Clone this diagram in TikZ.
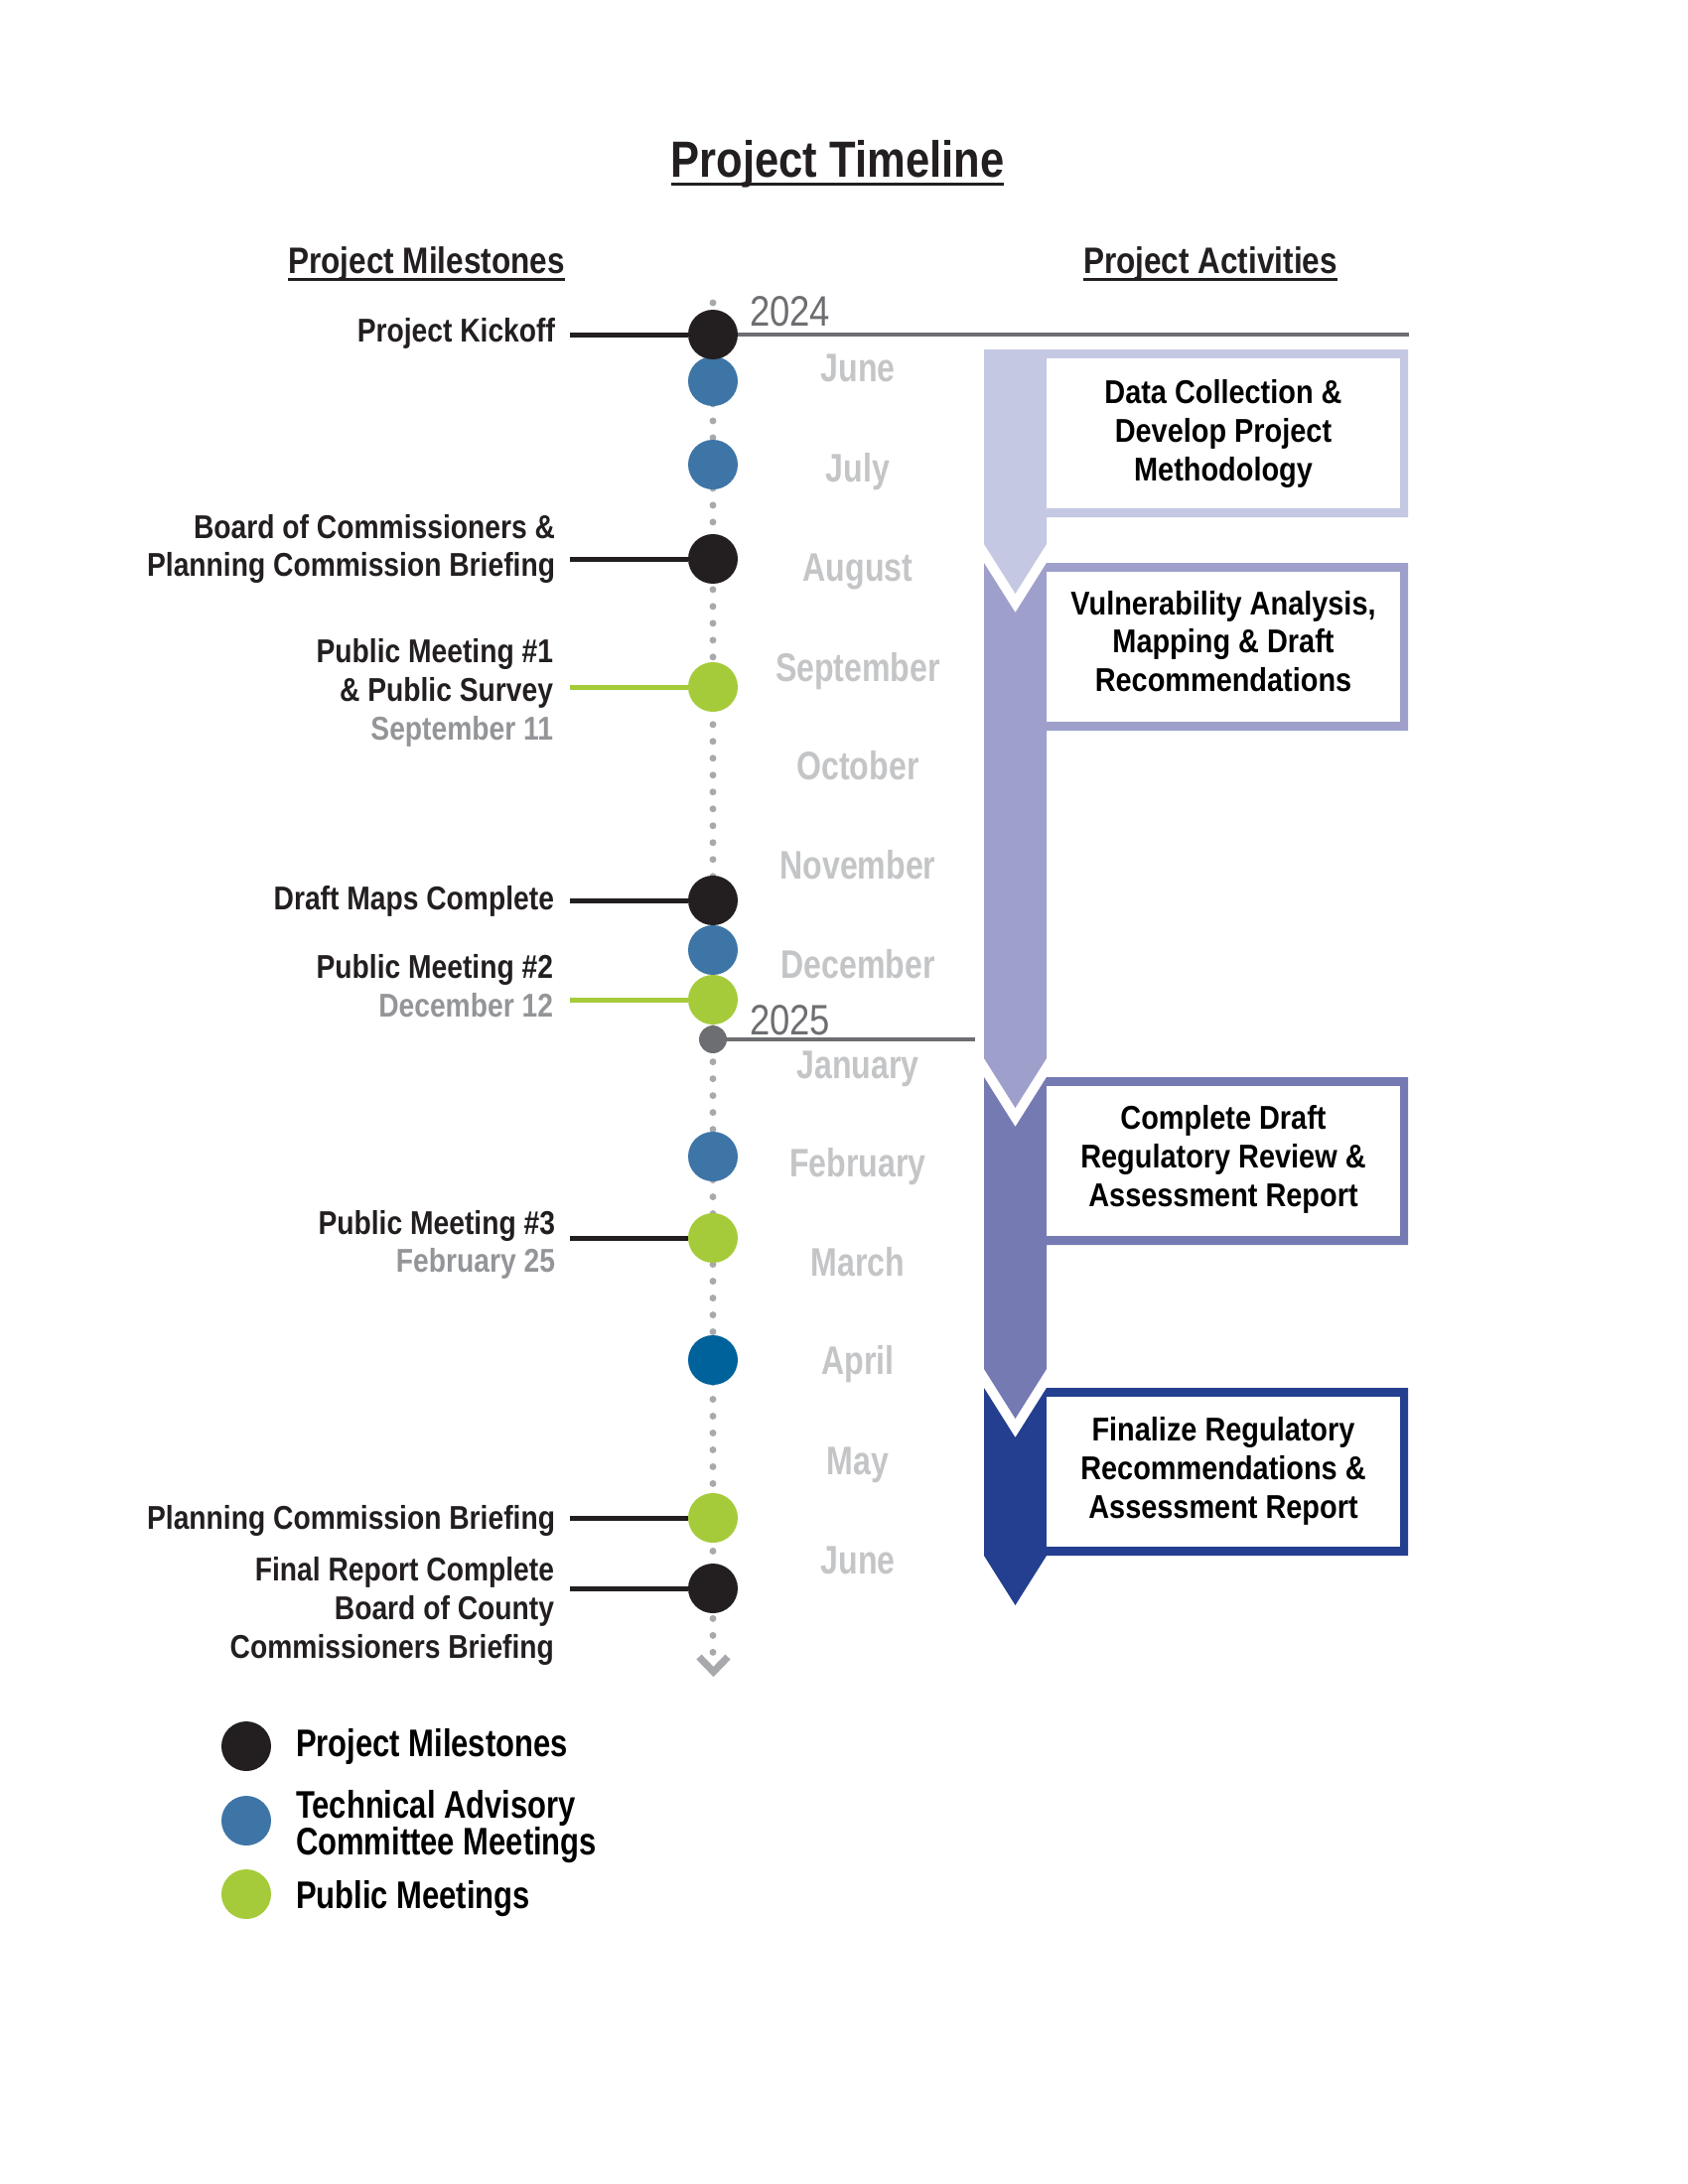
\documentclass[tikz,border=0pt]{standalone}
\usepackage{fontspec}
\setmainfont{Liberation Sans}
\newfontfamily\fcond{Liberation Sans}[FakeStretch=0.85]
\newfontfamily\fact{Liberation Sans}[FakeStretch=0.87]
\newfontfamily\fmon{Liberation Sans}[FakeStretch=0.8]
\definecolor{inkblack}{HTML}{231F20}
\definecolor{tacblue}{HTML}{3D75A7}
\definecolor{aprblue}{HTML}{00629B}
\definecolor{pubgreen}{HTML}{A5CB3A}
\definecolor{yeargray}{HTML}{6D6E71}
\definecolor{dotgray}{HTML}{A7A9AC}
\definecolor{monthgray}{HTML}{C4C5C7}
\definecolor{dategray}{HTML}{939598}
\definecolor{actA}{HTML}{C5C8E2}
\definecolor{actB}{HTML}{9EA0CB}
\definecolor{actC}{HTML}{767AB3}
\definecolor{actD}{HTML}{243F8F}
\begin{document}
\begin{tikzpicture}[x=0.36135pt,y=-0.36135pt,
  every node/.style={inner sep=0pt, outer sep=0pt},
  bigdot/.style={circle, minimum size=18.07pt, inner sep=0pt},
  msdot/.style={bigdot, fill=inkblack},
  tacdot/.style={bigdot, fill=tacblue},
  aprdot/.style={bigdot, fill=aprblue},
  pubdot/.style={bigdot, fill=pubgreen},
  yrdot/.style={circle, minimum size=10.1pt, fill=yeargray},
  lbl/.style={anchor=east, align=right, text=inkblack, font=\fcond\bfseries\fontsize{12pt}{14pt}\selectfont},
  lblone/.style={lbl, text height=8.6pt, text depth=0pt},
  monlbl/.style={anchor=center, text=monthgray, text height=10.4pt, text depth=0pt, font=\fmon\bfseries\fontsize{14.5pt}{16pt}\selectfont},
  yrlbl/.style={anchor=west, text=yeargray, text height=11.1pt, text depth=0pt, font=\fcond\fontsize{15.5pt}{17pt}\selectfont},
  acttxt/.style={anchor=center, align=center, text=black, font=\fact\bfseries\fontsize{12pt}{14pt}\selectfont},
  hdr/.style={anchor=base, text=inkblack, font=\fcond\bfseries\fontsize{13.4pt}{15pt}\selectfont},
  ttl/.style={anchor=base, text=inkblack, font=\fcond\bfseries\fontsize{18.5pt}{22pt}\selectfont},
  legtxt/.style={anchor=west, align=left, text=black, font=\fmon\bfseries\fontsize{14pt}{13.4pt}\selectfont},
  conn/.style={draw=inkblack, line width=1.8pt},
  pubconn/.style={draw=pubgreen, line width=1.8pt},
  yrline/.style={draw=yeargray, line width=1.45pt},
  dotline/.style={draw=dotgray, line width=2.5pt, line cap=round, dash pattern=on 0pt off 6.14pt},
  chev/.style={draw=dotgray, line width=2.6pt, miter limit=10},
  uline/.style={draw=inkblack, line width=1.1pt}
]
\fill[white] (0,0) rectangle (1700,2200);
\useasboundingbox (0,0) rectangle (1700,2200);

% titles
\node[ttl] (title) at (843.5,178) {Project Timeline};
\draw[uline] ([yshift=-2.6pt]title.base west) -- ([yshift=-2.6pt]title.base east);
\node[hdr] (hms) at (429.5,275) {Project Milestones};
\draw[uline] ([yshift=-2.4pt]hms.base west) -- ([yshift=-2.4pt]hms.base east);
\node[hdr] (hact) at (1219,275) {Project Activities};
\draw[uline] ([yshift=-2.4pt]hact.base west) -- ([yshift=-2.4pt]hact.base east);

% activity arrows
\fill[actA] (991,352) -- (1418,352) -- (1418,521) -- (1054,521) -- (1054,548) -- (1022.5,598) -- (991,548) -- cycle;
\fill[white] (1054,361) rectangle (1410,512);
\node[acttxt] (act1) at (1232,437) {Data Collection \&\\Develop Project\\Methodology};

\fill[actB] (991,567) -- (1022.5,617) -- (1054,567) -- (1418,567) -- (1418,736) -- (1054,736) -- (1054,1066) -- (1022.5,1116) -- (991,1066) -- cycle;
\fill[white] (1054,576) rectangle (1410,727);
\node[acttxt] (act2) at (1232,646) {Vulnerability Analysis,\\Mapping \& Draft\\Recommendations};

\fill[actC] (991,1085) -- (1022.5,1135) -- (1054,1085) -- (1418,1085) -- (1418,1254) -- (1054,1254) -- (1054,1379) -- (1022.5,1429) -- (991,1379) -- cycle;
\fill[white] (1054,1094) rectangle (1410,1245);
\node[acttxt] (act3) at (1232,1168) {Complete Draft\\Regulatory Review \&\\Assessment Report};

\fill[actD] (991,1398) -- (1022.5,1448) -- (1054,1398) -- (1418,1398) -- (1418,1567) -- (1054,1567) -- (1022.5,1617) -- (991,1567) -- cycle;
\fill[white] (1054,1407) rectangle (1410,1558);
\node[acttxt] (act4) at (1232,1482) {Finalize Regulatory\\Recommendations \&\\Assessment Report};

% timeline axis
\coordinate (ttop) at (718,305);
\coordinate (tbot) at (718,1668);
\draw[dotline] (ttop) -- (tbot);
\coordinate (chl) at (704,1669);
\coordinate (cht) at (718.5,1684);
\coordinate (chr) at (733,1669);
\draw[chev] (chl) -- (cht) -- (chr);

% months
\node[monlbl] (m1) at (864,370) {June};
\node[monlbl] (m2) at (864,471) {July};
\node[monlbl] (m3) at (864,571) {August};
\node[monlbl] (m4) at (864,672) {September};
\node[monlbl] (m5) at (864,771) {October};
\node[monlbl] (m6) at (864,871) {November};
\node[monlbl] (m7) at (864,971) {December};
\node[monlbl] (m8) at (864,1072) {January};
\node[monlbl] (m9) at (864,1171) {February};
\node[monlbl] (m10) at (864,1271) {March};
\node[monlbl] (m11) at (864,1370) {April};
\node[monlbl] (m12) at (864,1471) {May};
\node[monlbl] (m13) at (864,1571) {June};

% years
\node[yrlbl] (y24) at (755,313) {2024};
\node[yrlbl] (y25) at (755,1027) {2025};

% dots (blue first so others sit on top)
\node[tacdot] (cjun) at (718,384) {};
\node[tacdot] (cjul) at (718,468) {};
\node[tacdot] (cdec) at (718,957) {};
\node[tacdot] (cfeb) at (718,1165) {};
\node[aprdot] (capr) at (718,1370) {};
\node[msdot] (ck) at (718,337) {};
\node[msdot] (cb) at (718,563) {};
\node[pubdot] (cp1) at (718,692) {};
\node[msdot] (cd) at (718,907) {};
\node[pubdot] (cp2) at (718,1007) {};
\node[yrdot] (cy) at (718,1047) {};
\node[pubdot] (cp3) at (718,1247) {};
\node[pubdot] (cpc) at (718,1529) {};
\node[msdot] (cf) at (718,1600) {};

% year lines
\coordinate (y24end) at (1419,337);
\coordinate (y25end) at (982,1047);
\draw[yrline] (ck) -- (y24end);
\draw[yrline] (cy) -- (y25end);

% milestone labels
\node[lblone] (lk) at (559,333) {Project Kickoff};
\node[lbl] (lb) at (559,553) {Board of Commissioners \&\\Planning Commission Briefing};
\node[lbl] (lp1) at (557,698) {Public Meeting \#1\\\& Public Survey\\\textcolor{dategray}{September 11}};
\node[lbl] (lp2) at (557,993) {Public Meeting \#2\\\textcolor{dategray}{December 12}};
\node[lblone] (ld) at (558,905) {Draft Maps Complete};
\node[lbl] (lp3) at (559,1254) {Public Meeting \#3\\\textcolor{dategray}{February 25}};
\node[lblone] (lpc) at (559,1529) {Planning Commission Briefing};
\node[lbl] (lf) at (558,1623) {Final Report Complete\\Board of County\\Commissioners Briefing};

% connectors
\coordinate (lx) at (574,0);
\draw[conn] (ck -| lx) -- (ck);
\draw[conn] (cb -| lx) -- (cb);
\draw[pubconn] (cp1 -| lx) -- (cp1);
\draw[conn] (cd -| lx) -- (cd);
\draw[pubconn] (cp2 -| lx) -- (cp2);
\draw[conn] (cp3 -| lx) -- (cp3);
\draw[conn] (cpc -| lx) -- (cpc);
\draw[conn] (cf -| lx) -- (cf);

% legend
\node[msdot] (gms) at (248,1759) {};
\node[tacdot] (gtac) at (248,1834) {};
\node[pubdot] (gpub) at (248,1908) {};
\node[legtxt] (tms) at (298,1759) {Project Milestones};
\node[legtxt] (ttac) at (298,1840) {Technical Advisory\\Committee Meetings};
\node[legtxt] (tpub) at (298,1913) {Public Meetings};
\end{tikzpicture}
\end{document}
